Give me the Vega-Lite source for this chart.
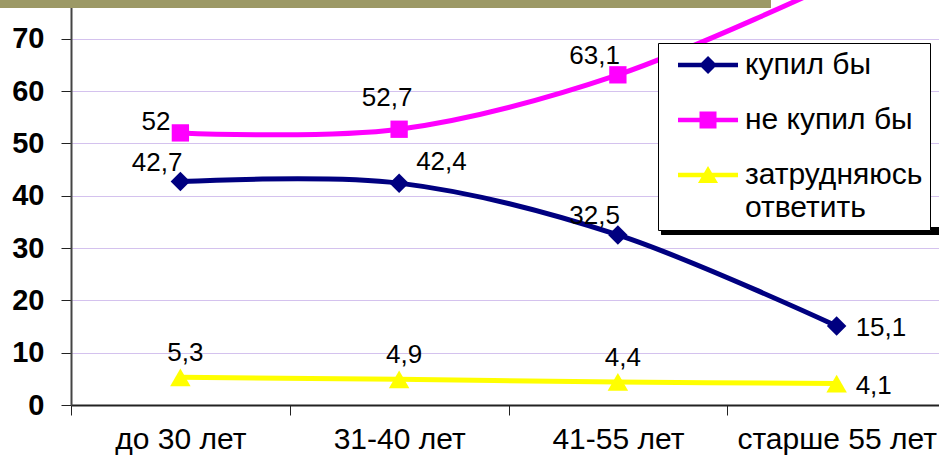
{
  "$schema": "https://vega.github.io/schema/vega-lite/v6.json",
  "width": 875,
  "height": 405,
  "autosize": "none",
  "padding": {"left": 71, "top": 0, "right": 0, "bottom": 59},
  "background": "white",
  "config": {
    "view": {"stroke": null},
    "font": "Liberation Sans",
    "locale": {"number": {"decimal": ",", "thousands": " ", "grouping": [3], "currency": ["", ""]}}
  },
  "data": {
    "values": [
      {"age": "до 30 лет", "series": "купил бы", "value": 42.7},
      {"age": "31-40 лет", "series": "купил бы", "value": 42.4},
      {"age": "41-55 лет", "series": "купил бы", "value": 32.5},
      {"age": "старше 55 лет", "series": "купил бы", "value": 15.1},
      {"age": "до 30 лет", "series": "не купил бы", "value": 52},
      {"age": "31-40 лет", "series": "не купил бы", "value": 52.7},
      {"age": "41-55 лет", "series": "не купил бы", "value": 63.1},
      {"age": "старше 55 лет", "series": "не купил бы", "value": 80.8},
      {"age": "до 30 лет", "series": "затрудняюсь ответить", "value": 5.3},
      {"age": "31-40 лет", "series": "затрудняюсь ответить", "value": 4.9},
      {"age": "41-55 лет", "series": "затрудняюсь ответить", "value": 4.4},
      {"age": "старше 55 лет", "series": "затрудняюсь ответить", "value": 4.1}
    ]
  },
  "layer": [
    {
      "mark": {"type": "line", "strokeWidth": 5, "interpolate": "cardinal", "clip": true},
      "encoding": {
        "x": {
          "field": "age", "type": "nominal",
          "sort": ["до 30 лет", "31-40 лет", "41-55 лет", "старше 55 лет"],
          "scale": {"type": "band", "paddingInner": 0, "paddingOuter": 0},
          "axis": {
            "title": null, "labelAngle": 0, "labelFontSize": 30, "labelColor": "black",
            "labelLimit": 400,
            "tickBand": "extent", "tickSize": 10, "tickColor": "#222", "domainColor": "#222",
            "domainWidth": 2, "tickWidth": 1, "labelPadding": 9, "grid": false
          }
        },
        "y": {
          "field": "value", "type": "quantitative",
          "scale": {"domain": [0, 77.4], "nice": false},
          "axis": {
            "title": null, "values": [0, 10, 20, 30, 40, 50, 60, 70],
            "labelFontSize": 29, "labelFontWeight": "bold", "labelColor": "black",
            "tickSize": 10, "tickColor": "#222", "domainColor": "#444", "domainWidth": 2,
            "gridColor": "#d4c2ee", "gridWidth": 1, "labelPadding": 17
          }
        },
        "color": {
          "field": "series", "type": "nominal",
          "scale": {
            "domain": ["купил бы", "не купил бы", "затрудняюсь ответить"],
            "range": ["#000080", "#ff00ff", "#ffff00"]
          },
          "legend": {
            "orient": "none", "legendX": 587, "legendY": 43, "title": null,
            "padding": 7, "fillColor": "white", "strokeColor": "black",
            "symbolSize": 900, "symbolStrokeWidth": 0,
            "labelFont": "Liberation Sans", "labelFontSize": 30, "labelColor": "black",
            "labelOffset": 50, "rowPadding": 25, "labelLimit": 400,
            "labelExpr": "datum.label === 'затрудняюсь ответить' ? ['затрудняюсь', 'ответить'] : datum.label",
            "encode": {
              "symbols": {
                "update": {
                  "shape": {"signal": "datum.value === 'купил бы' ? 'M-0.133,-0.15H3.867V0.15H-0.133Z M1.867,-0.6L2.467,0L1.867,0.6L1.267,0Z' : datum.value === 'не купил бы' ? 'M-0.133,-0.15H3.867V0.15H-0.133Z M1.3,-0.567H2.434V0.567H1.3Z' : 'M-0.133,-0.15H3.867V0.15H-0.133Z M1.867,-0.6L2.534,0.533L1.2,0.533Z'"},
                  "fill": {"signal": "scale('color', datum.value)"},
                  "strokeWidth": {"value": 0},
                  "opacity": {"value": 1}
                }
              },
              "labels": {
                "update": {
                  "lineHeight": {"value": 33}
                }
              }
            }
          }
        }
      }
    },
    {
      "transform": [{"filter": "datum.series === 'купил бы'"}],
      "mark": {"type": "point", "shape": "diamond", "filled": true, "size": 380, "opacity": 1, "clip": true},
      "encoding": {
        "x": {"field": "age", "type": "nominal", "sort": ["до 30 лет", "31-40 лет", "41-55 лет", "старше 55 лет"]},
        "y": {"field": "value", "type": "quantitative"},
        "fill": {"field": "series", "type": "nominal", "scale": {"domain": ["купил бы", "не купил бы", "затрудняюсь ответить"], "range": ["#000080", "#ff00ff", "#ffff00"]}, "legend": null}
      }
    },
    {
      "transform": [{"filter": "datum.series === 'не купил бы'"}],
      "mark": {"type": "point", "shape": "square", "filled": true, "size": 300, "opacity": 1, "clip": true},
      "encoding": {
        "x": {"field": "age", "type": "nominal", "sort": ["до 30 лет", "31-40 лет", "41-55 лет", "старше 55 лет"]},
        "y": {"field": "value", "type": "quantitative"},
        "fill": {"field": "series", "type": "nominal", "legend": null}
      }
    },
    {
      "transform": [{"filter": "datum.series === 'затрудняюсь ответить'"}],
      "mark": {"type": "point", "shape": "triangle-up", "filled": true, "size": 420, "opacity": 1, "clip": true},
      "encoding": {
        "x": {"field": "age", "type": "nominal", "sort": ["до 30 лет", "31-40 лет", "41-55 лет", "старше 55 лет"]},
        "y": {"field": "value", "type": "quantitative"},
        "fill": {"field": "series", "type": "nominal", "legend": null}
      }
    },
    {
      "transform": [{"filter": "(datum.series === 'купил бы' && (datum.age === 'до 30 лет' || datum.age === '41-55 лет')) || (datum.series === 'не купил бы' && datum.age === '41-55 лет')"}],
      "mark": {"type": "text", "align": "right", "baseline": "middle", "dx": 2, "dy": -19, "fontSize": 26, "color": "black"},
      "encoding": {
        "x": {"field": "age", "type": "nominal", "sort": ["до 30 лет", "31-40 лет", "41-55 лет", "старше 55 лет"]},
        "y": {"field": "value", "type": "quantitative"},
        "text": {"field": "value", "type": "quantitative", "format": ".1~f"}
      }
    },
    {
      "transform": [{"filter": "datum.series === 'не купил бы' && datum.age === 'до 30 лет'"}],
      "mark": {"type": "text", "align": "right", "baseline": "middle", "dx": -10, "dy": -11, "fontSize": 26, "color": "black"},
      "encoding": {
        "x": {"field": "age", "type": "nominal", "sort": ["до 30 лет", "31-40 лет", "41-55 лет", "старше 55 лет"]},
        "y": {"field": "value", "type": "quantitative"},
        "text": {"field": "value", "type": "quantitative", "format": ".1~f"}
      }
    },
    {
      "transform": [{"filter": "datum.series === 'не купил бы' && datum.age === '31-40 лет'"}],
      "mark": {"type": "text", "align": "center", "baseline": "middle", "dx": -12, "dy": -31, "fontSize": 26, "color": "black"},
      "encoding": {
        "x": {"field": "age", "type": "nominal", "sort": ["до 30 лет", "31-40 лет", "41-55 лет", "старше 55 лет"]},
        "y": {"field": "value", "type": "quantitative"},
        "text": {"field": "value", "type": "quantitative", "format": ".1~f"}
      }
    },
    {
      "transform": [{"filter": "datum.series === 'купил бы' && datum.age === '31-40 лет'"}],
      "mark": {"type": "text", "align": "left", "baseline": "middle", "dx": 17, "dy": -21, "fontSize": 26, "color": "black"},
      "encoding": {
        "x": {"field": "age", "type": "nominal", "sort": ["до 30 лет", "31-40 лет", "41-55 лет", "старше 55 лет"]},
        "y": {"field": "value", "type": "quantitative"},
        "text": {"field": "value", "type": "quantitative", "format": ".1~f"}
      }
    },
    {
      "transform": [{"filter": "datum.series === 'затрудняюсь ответить' && datum.age !== 'старше 55 лет'"}],
      "mark": {"type": "text", "align": "center", "baseline": "middle", "dx": 5, "dy": -24, "fontSize": 26, "color": "black"},
      "encoding": {
        "x": {"field": "age", "type": "nominal", "sort": ["до 30 лет", "31-40 лет", "41-55 лет", "старше 55 лет"]},
        "y": {"field": "value", "type": "quantitative"},
        "text": {"field": "value", "type": "quantitative", "format": ".1~f"}
      }
    },
    {
      "transform": [{"filter": "datum.series !== 'не купил бы' && datum.age === 'старше 55 лет'"}],
      "mark": {"type": "text", "align": "left", "baseline": "middle", "dx": 19, "dy": 2, "fontSize": 26, "color": "black"},
      "encoding": {
        "x": {"field": "age", "type": "nominal", "sort": ["до 30 лет", "31-40 лет", "41-55 лет", "старше 55 лет"]},
        "y": {"field": "value", "type": "quantitative"},
        "text": {"field": "value", "type": "quantitative", "format": ".1~f"}
      }
    },
    {
      "mark": {"type": "rect", "color": "black"},
      "encoding": {
        "x": {"datum": "41-55 лет", "type": "nominal", "bandPosition": 0.7},
        "x2": {"datum": "старше 55 лет", "bandPosition": 1.2},
        "y": {"datum": 32.6, "type": "quantitative"},
        "y2": {"datum": 34.0}
      }
    },
    {
      "mark": {"type": "rect", "color": "#9c9966"},
      "encoding": {
        "x": {"datum": "до 30 лет", "type": "nominal", "bandPosition": -0.325},
        "x2": {"datum": "старше 55 лет", "bandPosition": 0.197},
        "y": {"datum": 75.9, "type": "quantitative"},
        "y2": {"datum": 90}
      }
    }
  ]
}
